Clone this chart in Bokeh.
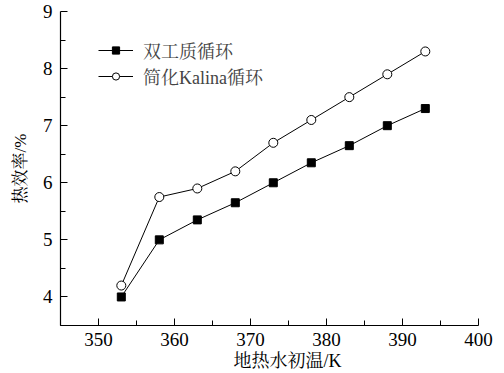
from bokeh.plotting import figure
from bokeh.models import Range1d, Legend, LegendItem, FixedTicker, Title
from bokeh.embed import file_html
from bokeh.resources import INLINE

temps = [353, 358, 363, 368, 373, 378, 383, 388, 393]
dual = [4.0, 5.0, 5.35, 5.65, 6.0, 6.35, 6.65, 7.0, 7.3]
kalina = [4.2, 5.75, 5.9, 6.2, 6.7, 7.1, 7.5, 7.9, 8.3]
name_dual = "双工质循环"
name_kalina = "简化Kalina循环"
x_title = "地热水初温/K"
y_title = "热效率/%"
x_ticks = [350, 360, 370, 380, 390, 400]
x_minor = [345, 355, 365, 375, 385, 395]
y_ticks = [4, 5, 6, 7, 8, 9]
y_minor = [3.5, 4.5, 5.5, 6.5, 7.5, 8.5]

FONT = "Liberation Serif, Noto Serif CJK SC, Noto Sans CJK SC, serif"

p = figure(width=500, height=370, output_backend="svg", toolbar_location=None,
           x_range=Range1d(345, 400), y_range=Range1d(3.5, 9.0),
           min_border_left=60, min_border_right=22, min_border_top=11, min_border_bottom=0)
p.outline_line_color = None
p.grid.visible = False
p.background_fill_color = "white"
p.border_fill_color = "white"

for ax in (p.xaxis[0], p.yaxis[0]):
    ax.major_tick_in = 7
    ax.major_tick_out = 0
    ax.minor_tick_in = 5
    ax.minor_tick_out = 0
    ax.axis_line_width = 1.2
    ax.axis_line_color = "black"
    ax.major_tick_line_color = "black"
    ax.minor_tick_line_color = "black"
    ax.major_label_text_font = FONT
    ax.major_label_text_font_size = "19px"
    ax.major_label_text_color = "black"
    ax.axis_label_text_font = FONT
    ax.axis_label_text_font_style = "normal"
    ax.axis_label_text_color = "black"

p.xaxis.ticker = FixedTicker(ticks=x_ticks, minor_ticks=x_minor)
p.yaxis.ticker = FixedTicker(ticks=y_ticks, minor_ticks=y_minor)
p.xaxis.major_label_standoff = 7
p.yaxis.major_label_standoff = 8
p.yaxis.axis_label = y_title
p.yaxis.axis_label_text_font_size = "17px"
p.yaxis.axis_label_standoff = 10

xt = Title(text=x_title, align="left", offset=173, text_font=FONT, text_font_size="18px",
           text_font_style="normal", text_color="black", standoff=0)
p.add_layout(xt, "below")

l1 = p.line(temps, dual, line_color="black", line_width=1)
m1 = p.scatter(temps, dual, marker="square", size=8, fill_color="black", line_color="black")
l2 = p.line(temps, kalina, line_color="black", line_width=1)
m2 = p.scatter(temps, kalina, marker="circle", size=9, fill_color="white", line_color="black")

legend = Legend(items=[LegendItem(label=name_dual, renderers=[l1, m1]),
                       LegendItem(label=name_kalina, renderers=[l2, m2])],
                location=(38, 236), orientation="vertical",
                background_fill_alpha=0, border_line_color=None,
                label_text_font=FONT, label_text_font_size="18px",
                label_text_line_height=1.0,
                glyph_width=35, glyph_height=18, spacing=-4, padding=4,
                label_standoff=10, margin=0, label_height=18)
p.add_layout(legend, "center")

open("out.html", "w").write(file_html(p, INLINE))
